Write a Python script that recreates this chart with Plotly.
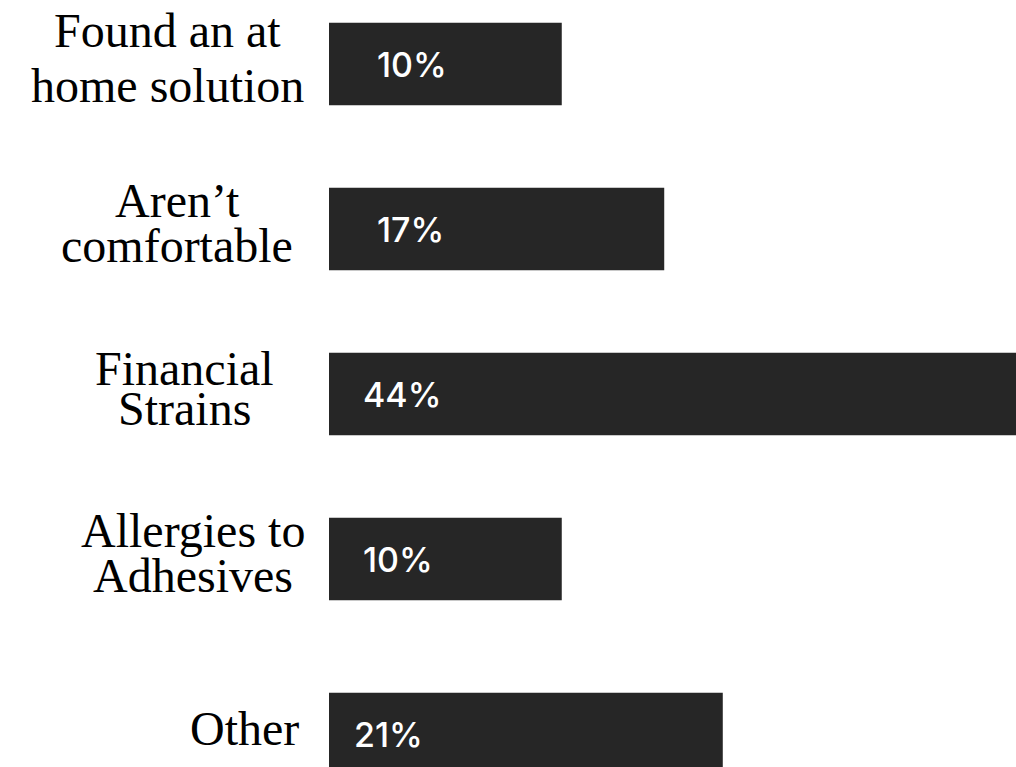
import plotly.graph_objects as go

# Reasons given, share of respondents (%)
categories = [
    "Found an at\nhome solution",
    "Aren’t\ncomfortable",
    "Financial\nStrains",
    "Allergies to\nAdhesives",
    "Other",
]
shares = [10, 17, 44, 10, 21]
share_labels = [f"{v}%" for v in shares]

# ---- layout / style ----
W, H = 1016, 767
PLOT_LEFT = 329                 # left edge of the bar area (px)
PLOT_W = W - PLOT_LEFT
BAR_COLOR = "#262626"
LEAD = 5.9                      # every bar starts a little before zero
X_MAX = 41.03
ROW_PX = 165                    # vertical pitch between rows
OTHER_GAP = 10 / ROW_PX         # "Other" is set slightly apart
BAR_THICK = 0.5
TOP_PX = 64                     # centre of the first row from the top

row_pos = [i + (OTHER_GAP if c == "Other" else 0) for i, c in enumerate(categories)]
y_top = -TOP_PX / ROW_PX
y_bottom = y_top + H / ROW_PX

# category label placement: horizontal centre (px), line pitch (px)
label_cx = [167, 177, 184, 193, 244]
line_pitch = [55, 45, 40, 45, 0]
label_mid = -6
# value label horizontal offset from bar start (px)
value_dx = [46, 46, 32, 32, 23]

LABEL_FONT = dict(family="Liberation Serif", size=48, color="#000000")
VALUE_FONT = dict(family="Inter", size=34, color="#ffffff", weight=500)

fig = go.Figure(
    go.Bar(
        y=row_pos,
        x=[v + LEAD for v in shares],
        base=-LEAD,
        orientation="h",
        width=BAR_THICK,
        marker=dict(color=BAR_COLOR, line=dict(width=0)),
        hoverinfo="skip",
    )
)

annotations = []
for i, (cat, txt) in enumerate(zip(categories, share_labels)):
    lines = cat.split("\n")
    n = len(lines)
    for k, line in enumerate(lines):
        off = label_mid + (k - (n - 1) / 2) * line_pitch[i]
        annotations.append(dict(
            x=(label_cx[i] - PLOT_LEFT) / PLOT_W, xref="paper",
            y=row_pos[i], yref="y",
            text=line, showarrow=False,
            xanchor="center", yanchor="middle",
            yshift=-off, font=LABEL_FONT,
        ))
    annotations.append(dict(
        x=-LEAD, xref="x", y=row_pos[i], yref="y",
        text=txt, showarrow=False,
        xanchor="left", yanchor="middle",
        xshift=value_dx[i], font=VALUE_FONT,
    ))

fig.update_layout(
    width=W, height=H,
    margin=dict(l=PLOT_LEFT, r=0, t=0, b=0, pad=0),
    paper_bgcolor="#ffffff",
    plot_bgcolor="#ffffff",
    showlegend=False,
    annotations=annotations,
    xaxis=dict(range=[-LEAD, X_MAX], visible=False, fixedrange=True),
    yaxis=dict(range=[y_bottom, y_top], visible=False, fixedrange=True),
)

fig.write_html("out.html", config={"displayModeBar": False})
